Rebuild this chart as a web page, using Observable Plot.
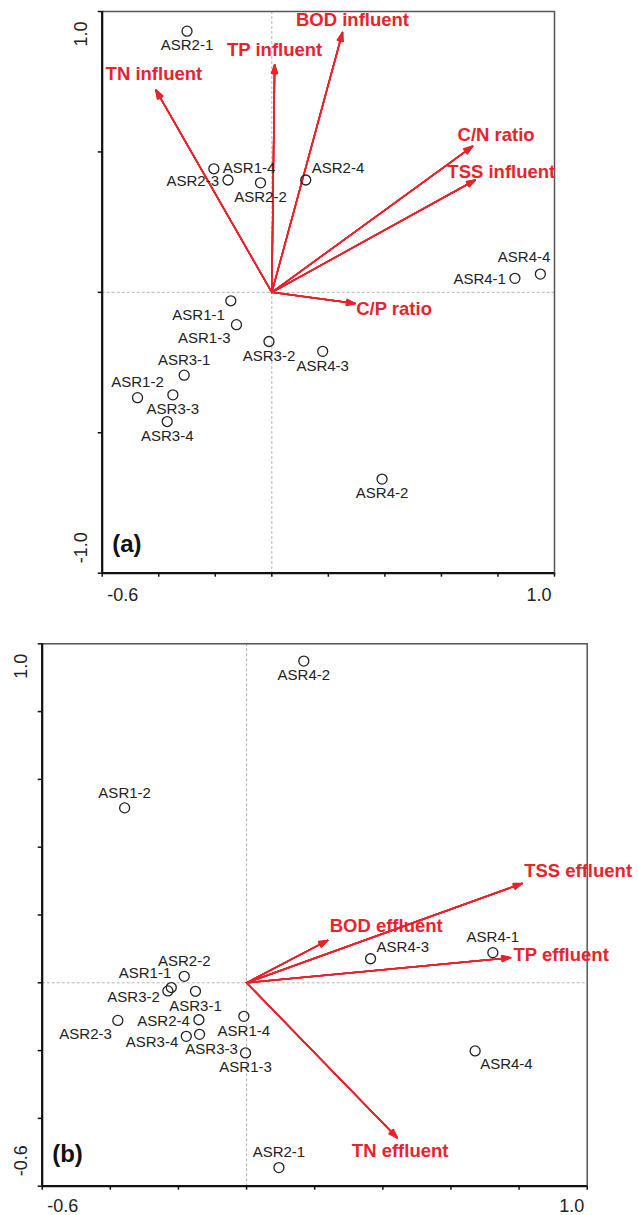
<!DOCTYPE html>
<html><head><meta charset="utf-8">
<script src="https://cdn.jsdelivr.net/npm/d3@7"></script>
<script src="https://cdn.jsdelivr.net/npm/@observablehq/plot@0.6"></script>
<style>
html,body{margin:0;padding:0;background:#fff;overflow:hidden;}
#chart svg{display:block;overflow:visible;max-width:none;}
</style></head><body><div id="chart"></div>
<script>
// ---------- DATA ----------
// Ordination origin (arrows start here)
const origin = [0, 0];

// Panel (a): sample scores
const sitesA  = ["ASR2-1","ASR1-4","ASR2-3","ASR2-2","ASR2-4","ASR4-4","ASR4-1","ASR1-1","ASR1-3","ASR3-2","ASR4-3","ASR3-1","ASR1-2","ASR3-3","ASR3-4","ASR4-2"];
const sitesAX = [-0.30,-0.205,-0.155,-0.04,0.12,0.95,0.86,-0.145,-0.125,-0.01,0.18,-0.31,-0.475,-0.35,-0.37,0.39];
const sitesAY = [0.93,0.44,0.40,0.39,0.40,0.065,0.05,-0.03,-0.115,-0.175,-0.21,-0.295,-0.375,-0.365,-0.46,-0.665];
// Panel (a): environmental variable arrows
const varsA  = ["TN influent","TP influent","BOD influent","C/N ratio","TSS influent","C/P ratio"];
const varsAX = [-0.41,0.01,0.25,0.71,0.72,0.295];
const varsAY = [0.72,0.81,0.925,0.52,0.40,-0.04];
// Panel (a): axes
const xDomainA = [-0.6, 1.0], yDomainA = [-1.0, 1.0];
const xTicksA = [-0.6,-0.4,-0.2,0,0.2,0.4,0.6,0.8,1.0];
const yTicksA = [-1.0,-0.5,0,0.5,1.0];
const xTickLabelsA = [-0.6, 1.0];
const yTickLabelsA = [-1.0, 1.0];

// Panel (b): sample scores
const sitesB  = ["ASR4-2","ASR1-2","ASR2-2","ASR1-1","ASR3-2","ASR3-1","ASR2-3","ASR2-4","ASR3-4","ASR3-3","ASR1-4","ASR1-3","ASR2-1","ASR4-3","ASR4-1","ASR4-4"];
const sitesBX = [0.168,-0.358,-0.183,-0.221,-0.231,-0.150,-0.378,-0.140,-0.177,-0.138,-0.008,-0.003,0.095,0.364,0.723,0.671];
const sitesBY = [0.949,0.516,0.019,-0.014,-0.024,-0.025,-0.111,-0.109,-0.158,-0.152,-0.099,-0.207,-0.545,0.071,0.089,-0.201];
// Panel (b): environmental variable arrows
const varsB  = ["TSS effluent","BOD effluent","TP effluent","TN effluent"];
const varsBX = [0.809,0.238,0.775,0.442];
const varsBY = [0.293,0.125,0.074,-0.457];
// Panel (b): axes
const xDomainB = [-0.6, 1.0], yDomainB = [-0.6, 1.0];
const xTicksB = [-0.6,-0.4,-0.2,0,0.2,0.4,0.6,0.8,1.0];
const yTicksB = [-0.6,-0.4,-0.2,0,0.2,0.4,0.6,0.8,1.0];
const xTickLabelsB = [-0.6, 1.0];
const yTickLabelsB = [-0.6, 1.0];

// ---------- LAYOUT (label placement) ----------
const siteOffsets = {
  b:  ["middle", 0, 14.5],
  a:  ["middle", 0, -15],
  l:  ["end", -9, 1],
  r:  ["start", 9, -1],
  ar: ["start", 6, -12],
  ae: ["end", 10, -17],
  al: ["end", 0, -14],
  bl: ["end", -6, 14],
  lb: ["end", -8, 6],
  br: ["middle", 12, 15],
  rb: ["start", 5, 13]
};
const placeA = {"ASR2-1":"b","ASR1-4":"r","ASR2-3":"l","ASR2-2":"b","ASR2-4":"ar","ASR4-4":"ae","ASR4-1":"l","ASR1-1":"bl","ASR1-3":"bl","ASR3-2":"b","ASR4-3":"b","ASR3-1":"a","ASR1-2":"a","ASR3-3":"b","ASR3-4":"b","ASR4-2":"b"};
const placeB = {"ASR4-2":"b","ASR1-2":"a","ASR2-2":"a","ASR1-1":"al","ASR3-2":"lb","ASR3-1":"b","ASR2-3":"bl","ASR2-4":"l","ASR3-4":"lb","ASR3-3":"br","ASR1-4":"b","ASR1-3":"b","ASR2-1":"a","ASR4-3":"ar","ASR4-1":"a","ASR4-4":"rb"};
const arrowLabelOffsets = {
  "TN influent": ["middle", -2, -16],
  "TP influent": ["middle", 0, -15],
  "BOD influent": ["middle", 10, -12],
  "C/N ratio": ["start", -15, -11],
  "TSS influent": ["start", -28, -8],
  "C/P ratio": ["start", 1, 5],
  "TSS effluent": ["start", 2, -12],
  "BOD effluent": ["start", 2, -14],
  "TP effluent": ["start", 3, -3],
  "TN effluent": ["middle", 3, 13]
};

const RED = "#e8232c";
const INK = "#222";
const FONT = "'Liberation Sans', Arial, Helvetica, sans-serif";
const fmt = d => d.toFixed(1);

function rows(names, xs, ys) { return names.map((name, i) => ({name, x: xs[i], y: ys[i]})); }

function labelMarks(data, place, offsets, style) {
  return Object.entries(offsets).map(([code, [anchor, dx, dy]]) =>
    Plot.text(data.filter(d => place[d.name] === code),
      {x: "x", y: "y", text: "name", textAnchor: anchor, dx, dy, ...style}));
}

function panel(cfg) {
  const sites = rows(cfg.sites, cfg.sx, cfg.sy);
  const arrows = rows(cfg.vars, cfg.vx, cfg.vy);
  const arrowPlace = Object.fromEntries(cfg.vars.map(v => [v, v]));
  const arrowLayers = [40, 32, 24, 16, 8].map(angle =>
    Plot.arrow(arrows, {x1: () => origin[0], y1: () => origin[1], x2: "x", y2: "y",
      stroke: RED, strokeWidth: 1.5, headAngle: angle, headLength: 9}));
  return Plot.plot({
    width: 638, height: cfg.height,
    marginTop: cfg.mt, marginRight: cfg.mr, marginBottom: cfg.mb, marginLeft: cfg.ml,
    x: {domain: cfg.xDomain, label: null},
    y: {domain: cfg.yDomain, label: null},
    style: {fontFamily: FONT, background: "white", overflow: "visible"},
    marks: [
      Plot.ruleX([0], {stroke: "#b5b5b5", strokeDasharray: "3,2", strokeWidth: 1}),
      Plot.ruleY([0], {stroke: "#b5b5b5", strokeDasharray: "3,2", strokeWidth: 1}),
      Plot.frame({stroke: "#555", strokeWidth: 1.5}),
      Plot.ruleX([cfg.xDomain[0]], {stroke: "#111", strokeWidth: 2.2}),
      Plot.ruleY([cfg.yDomain[0]], {stroke: "#111", strokeWidth: 2.2}),
      Plot.axisX(cfg.xTicks, {anchor: "bottom", tickSize: 4, tickFormat: () => "", label: null, stroke: "#111", strokeWidth: 1.5}),
      Plot.axisY(cfg.yTicks, {anchor: "left", tickSize: 4, tickFormat: () => "", label: null, stroke: "#111", strokeWidth: 1.5}),
      Plot.axisX([cfg.xLabels[0]], {anchor: "bottom", tickSize: 0, tickPadding: cfg.xPad, textAnchor: "start", dx: 5, tickFormat: fmt, fontSize: 18, fill: INK, label: null}),
      Plot.axisX([cfg.xLabels[1]], {anchor: "bottom", tickSize: 0, tickPadding: cfg.xPad, textAnchor: "end", dx: -3, tickFormat: fmt, fontSize: 18, fill: INK, label: null}),
      Plot.axisY([cfg.yLabels[0]], {anchor: "left", tickSize: 0, tickPadding: 15, tickRotate: -90, textAnchor: "start", lineAnchor: "bottom", dy: -10, tickFormat: fmt, fontSize: 18, fill: INK, label: null}),
      Plot.axisY([cfg.yLabels[1]], {anchor: "left", tickSize: 0, tickPadding: 15, tickRotate: -90, textAnchor: "end", lineAnchor: "bottom", dy: 10, tickFormat: fmt, fontSize: 18, fill: INK, label: null}),
      ...arrowLayers,
      Plot.dot(sites, {x: "x", y: "y", r: 5, stroke: INK, strokeWidth: 1.3, fill: "none"}),
      ...labelMarks(sites, cfg.place, siteOffsets, {fontSize: 15, fill: INK}),
      ...labelMarks(arrows, arrowPlace, Object.fromEntries(cfg.vars.map(v => [v, arrowLabelOffsets[v]])),
        {fontSize: 18.5, fontWeight: "bold", fill: RED}),
      Plot.text([cfg.tag], {frameAnchor: "bottom-left", textAnchor: "start", dx: 10, dy: cfg.tagDy, fontSize: 24, fontWeight: "bold", fill: "#111"})
    ]
  });
}

const chart = document.getElementById("chart");
chart.append(panel({
  sites: sitesA, sx: sitesAX, sy: sitesAY, vars: varsA, vx: varsAX, vy: varsAY,
  xDomain: xDomainA, yDomain: yDomainA, xTicks: xTicksA, yTicks: yTicksA,
  xLabels: xTickLabelsA, yLabels: yTickLabelsA, place: placeA, tag: "(a)",
  height: 605, mt: 11, mr: 84, mb: 32.3, ml: 101.7, xPad: 15, tagDy: -21
}));
chart.append(panel({
  sites: sitesB, sx: sitesBX, sy: sitesBY, vars: varsB, vx: varsBX, vy: varsBY,
  xDomain: xDomainB, yDomain: yDomainB, xTicks: xTicksB, yTicks: yTicksB,
  xLabels: xTickLabelsB, yLabels: yTickLabelsB, place: placeB, tag: "(b)",
  height: 610, mt: 38.3, mr: 51.3, mb: 29.3, ml: 41.7, xPad: 13, tagDy: -24
}));
</script></body></html>
